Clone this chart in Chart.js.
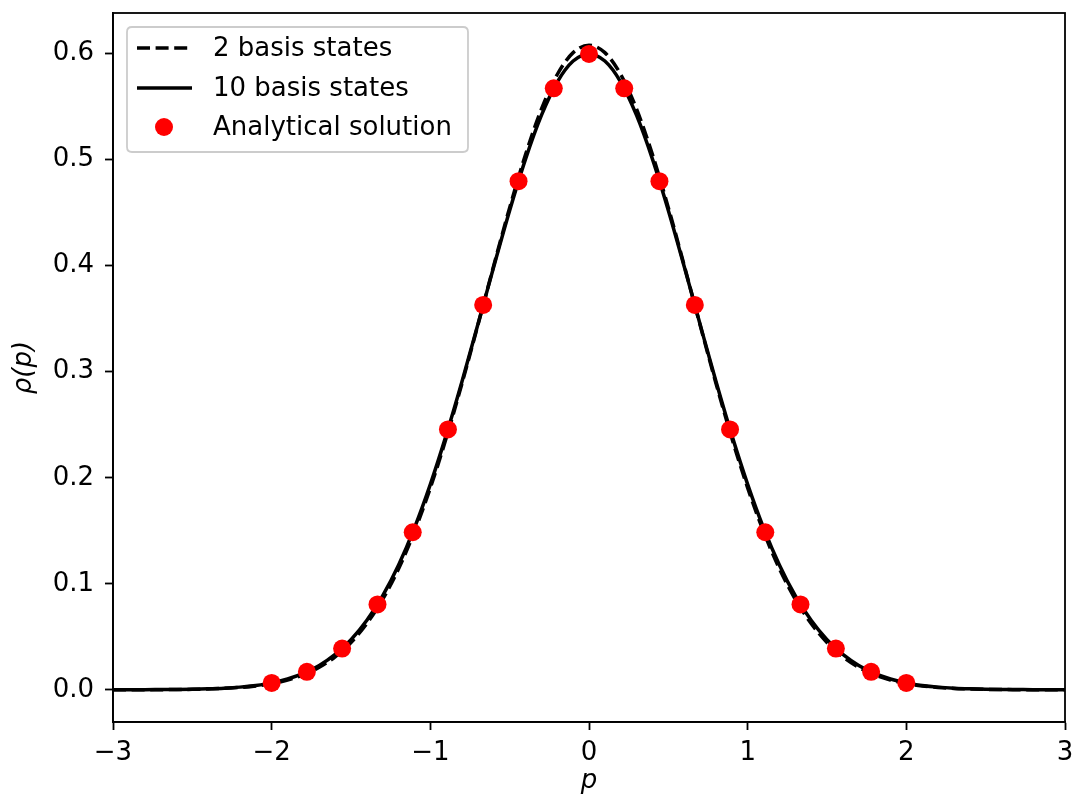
<!DOCTYPE html>
<html>
<head>
<meta charset="utf-8">
<script src="https://cdn.jsdelivr.net/npm/chart.js@4.4.1/dist/chart.umd.min.js"></script>
<style>
  html, body { margin: 0; padding: 0; background: #fff; }
  #wrap { width: 1078px; height: 804px; position: relative; }
</style>
</head>
<body>
<div id="wrap"><canvas id="c"></canvas></div>
<script>
// ---- data ----
const pGrid = [-3.0,-2.9,-2.8,-2.7,-2.6,-2.5,-2.4,-2.3,-2.2,-2.1,-2.0,-1.9,-1.8,-1.7,-1.6,-1.5,-1.4,-1.3,-1.2,-1.1,-1.0,
  -0.9,-0.8,-0.7,-0.6,-0.5,-0.4,-0.3,-0.2,-0.1,0.0,0.1,0.2,0.3,0.4,0.5,0.6,0.7,0.8,0.9,1.0,
  1.1,1.2,1.3,1.4,1.5,1.6,1.7,1.8,1.9,2.0,2.1,2.2,2.3,2.4,2.5,2.6,2.7,2.8,2.9,3.0];

const rho2 = [0.0000,0.0000,0.0000,0.0001,0.0002,0.0004,0.0008,0.0013,0.0022,0.0036,0.0058,0.0092,0.0141,0.0212,0.0311,0.0446,0.0625,0.0855,0.1142,0.1492,0.1904,
  0.2374,0.2892,0.3442,0.4003,0.4548,0.5049,0.5477,0.5804,0.6010,0.6080,0.6010,0.5804,0.5477,0.5049,0.4548,0.4003,0.3442,0.2892,0.2374,0.1904,
  0.1492,0.1142,0.0855,0.0625,0.0446,0.0311,0.0212,0.0141,0.0092,0.0058,0.0036,0.0022,0.0013,0.0008,0.0004,0.0002,0.0001,0.0000,0.0000,0.0000];

const rho10 = [0.0000,0.0001,0.0001,0.0002,0.0003,0.0005,0.0009,0.0015,0.0025,0.0041,0.0065,0.0102,0.0154,0.0229,0.0333,0.0472,0.0655,0.0888,0.1178,0.1528,0.1938,
  0.2402,0.2910,0.3448,0.3993,0.4522,0.5006,0.5418,0.5733,0.5931,0.5998,0.5931,0.5733,0.5418,0.5006,0.4522,0.3993,0.3448,0.2910,0.2402,0.1938,
  0.1528,0.1178,0.0888,0.0655,0.0472,0.0333,0.0229,0.0154,0.0102,0.0065,0.0041,0.0025,0.0015,0.0009,0.0005,0.0003,0.0002,0.0001,0.0001,0.0000];

const pExact = [-2.0,-1.778,-1.556,-1.333,-1.111,-0.889,-0.667,-0.444,-0.222,0.0,0.222,0.444,0.667,0.889,1.111,1.333,1.556,1.778,2.0];
const rhoExact = [0.0065,0.0169,0.0389,0.0805,0.1486,0.2456,0.3630,0.4798,0.5673,0.5998,0.5673,0.4798,0.3630,0.2456,0.1486,0.0805,0.0389,0.0169,0.0065];

const seriesNames = ['2 basis states', '10 basis states', 'Analytical solution'];
const xTicks = [-3, -2, -1, 0, 1, 2, 3];
const yTicks = [0.0, 0.1, 0.2, 0.3, 0.4, 0.5, 0.6];

// ---- chart ----
const FONT = 'DejaVu Sans';
const FS = 26;
const toPts = (xs, ys) => xs.map((x, i) => ({ x: x, y: ys[i] }));

const framePlugin = {
  id: 'frame',
  afterDraw(chart) {
    const { ctx, chartArea: a } = chart;
    ctx.save();
    ctx.strokeStyle = '#000';
    ctx.lineWidth = 1.8;
    ctx.strokeRect(a.left, a.top, a.right - a.left, a.bottom - a.top);
    ctx.restore();
  }
};

const legendPlugin = {
  id: 'mplLegend',
  afterDraw(chart) {
    const { ctx } = chart;
    const bx = 127, by = 27, bw = 341, bh = 125, r = 5;
    ctx.save();
    ctx.beginPath();
    ctx.moveTo(bx + r, by);
    ctx.lineTo(bx + bw - r, by);
    ctx.quadraticCurveTo(bx + bw, by, bx + bw, by + r);
    ctx.lineTo(bx + bw, by + bh - r);
    ctx.quadraticCurveTo(bx + bw, by + bh, bx + bw - r, by + bh);
    ctx.lineTo(bx + r, by + bh);
    ctx.quadraticCurveTo(bx, by + bh, bx, by + bh - r);
    ctx.lineTo(bx, by + r);
    ctx.quadraticCurveTo(bx, by, bx + r, by);
    ctx.closePath();
    ctx.fillStyle = 'rgba(255,255,255,0.8)';
    ctx.fill();
    ctx.strokeStyle = '#cccccc';
    ctx.lineWidth = 1.8;
    ctx.stroke();

    const rows = [48, 88, 127];
    const ds = chart.data.datasets;
    ctx.font = FS + 'px "' + FONT + '"';
    ctx.textBaseline = 'middle';
    ctx.textAlign = 'left';
    ds.forEach((d, i) => {
      const y = rows[i];
      if (d.showLine === false) {
        ctx.beginPath();
        ctx.fillStyle = d.pointBackgroundColor;
        ctx.arc(164, y, d.pointRadius, 0, Math.PI * 2);
        ctx.fill();
      } else {
        ctx.beginPath();
        ctx.setLineDash(d.borderDash || []);
        ctx.strokeStyle = d.borderColor;
        ctx.lineWidth = d.borderWidth;
        ctx.moveTo(137, y);
        ctx.lineTo(192, y);
        ctx.stroke();
        ctx.setLineDash([]);
      }
      ctx.fillStyle = '#000';
      ctx.fillText(d.label, 213, y + 1);
    });
    ctx.restore();
  }
};

new Chart(document.getElementById('c'), {
  type: 'line',
  data: {
    datasets: [
      {
        label: seriesNames[0],
        data: toPts(pGrid, rho2),
        borderColor: '#000',
        borderWidth: 3.5,
        borderDash: [13, 5.6],
        pointRadius: 0,
        cubicInterpolationMode: 'monotone',
        fill: false,
        order: 2
      },
      {
        label: seriesNames[1],
        data: toPts(pGrid, rho10),
        borderColor: '#000',
        borderWidth: 3.5,
        pointRadius: 0,
        cubicInterpolationMode: 'monotone',
        fill: false,
        order: 1
      },
      {
        label: seriesNames[2],
        data: toPts(pExact, rhoExact),
        showLine: false,
        pointRadius: 9,
        pointBackgroundColor: '#ff0000',
        pointBorderColor: '#ff0000',
        pointBorderWidth: 0,
        borderColor: '#ff0000',
        order: 0
      }
    ]
  },
  options: {
    responsive: true,
    maintainAspectRatio: false,
    animation: false,
    events: [],
    layout: { padding: { top: 13, right: 13, left: 0, bottom: 0 } },
    plugins: { legend: { display: false }, tooltip: { enabled: false } },
    scales: {
      x: {
        type: 'linear',
        min: -3, max: 3,
        afterFit(s) { s.height = 82; s.paddingLeft = 0; s.paddingRight = 0; s.paddingTop = 0; s.paddingBottom = 0; },
        afterBuildTicks(s) { s.ticks = xTicks.map(v => ({ value: v })); },
        grid: { display: true, drawOnChartArea: false, drawTicks: true, tickLength: 8, tickWidth: 1.8, tickColor: '#000' },
        border: { display: true, color: '#000', width: 1.8 },
        ticks: {
          autoSkip: false, maxRotation: 0, padding: 8, color: '#000',
          font: { family: FONT, size: FS },
          callback: v => (v < 0 ? '\u2212' + Math.abs(v) : String(v))
        },
        title: {
          display: true, text: 'p', color: '#000',
          font: { family: FONT, size: FS, style: 'italic' },
          padding: { top: 0, bottom: 7 }
        }
      },
      y: {
        type: 'linear',
        min: -0.0304, max: 0.6384,
        afterFit(s) { s.width = 113; s.paddingLeft = 0; s.paddingRight = 0; s.paddingTop = 0; s.paddingBottom = 0; },
        afterBuildTicks(s) { s.ticks = yTicks.map(v => ({ value: v })); },
        grid: { display: true, drawOnChartArea: false, drawTicks: true, tickLength: 8, tickWidth: 1.8, tickColor: '#000' },
        border: { display: true, color: '#000', width: 1.8 },
        ticks: {
          autoSkip: false, padding: 11, color: '#000',
          font: { family: FONT, size: FS },
          callback: v => Number(v).toFixed(1)
        },
        title: {
          display: true, text: '\u03C1(p)', color: '#000',
          font: { family: FONT, size: FS, style: 'italic' },
          padding: { top: 9, bottom: 0 }
        }
      }
    }
  },
  plugins: [framePlugin, legendPlugin]
});
</script>
</body>
</html>
